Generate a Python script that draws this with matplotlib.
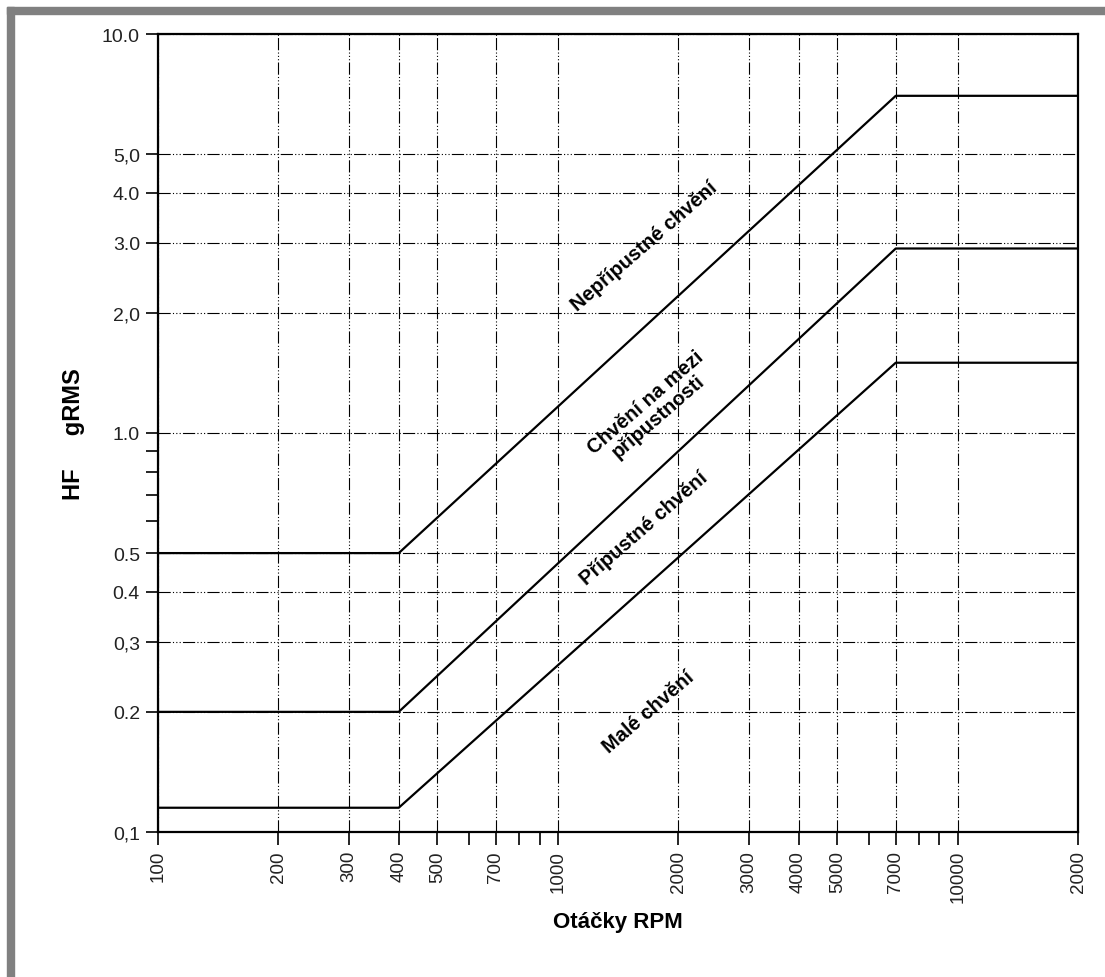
import matplotlib
matplotlib.use("Agg")
import matplotlib.pyplot as plt
from matplotlib.patches import Rectangle
from matplotlib.ticker import FixedLocator, FixedFormatter, NullFormatter

plt.rcParams['font.family'] = ['Liberation Sans', 'DejaVu Sans']

# Limit curves (RPM breakpoints and HF gRMS levels)
rpm = [100, 400, 7000, 20000]
limit_high = [0.5, 0.5, 7.0, 7.0]
limit_mid = [0.2, 0.2, 2.9, 2.9]
limit_low = [0.115, 0.115, 1.5, 1.5]

x_ticks = [100, 200, 300, 400, 500, 700, 1000, 2000, 3000, 4000, 5000, 7000, 10000, 20000]
x_labels = ['100', '200', '300', '400', '500', '700', '1000', '2000', '3000', '4000',
            '5000', '7000', '10000', '2000']
x_minor = [600, 800, 900, 6000, 8000, 9000]

y_ticks = [0.1, 0.2, 0.3, 0.4, 0.5, 1.0, 2.0, 3.0, 4.0, 5.0, 10.0]
y_labels = ['0,1', '0.2', '0,3', '0.4', '0.5', '1.0', '2,0', '3.0', '4.0', '5,0', '10.0']
y_minor = [0.6, 0.7, 0.8, 0.9]

zone_labels = ['Nepřípustné chvění', 'Chvění na mezi\npřípustnosti', 'Přípustné chvění', 'Malé chvění']
zone_x = [1640, 1720, 1640, 1680]
zone_y = [2.95, 1.15, 0.58, 0.20]

fig = plt.figure(figsize=(11.05, 9.78), dpi=100)
ax = fig.add_axes([0.143, 0.1483, 0.8326, 0.8159])

# grey frame (top and left) like the original screenshot
fig.patches.append(Rectangle((7 / 1105, (978 - 15) / 978), 1, 7 / 978,
                             transform=fig.transFigure, color='#808080', zorder=0))
fig.patches.append(Rectangle((7 / 1105, 0), 7 / 1105, (978 - 8) / 978,
                             transform=fig.transFigure, color='#808080', zorder=0))

for vals in (limit_high, limit_mid, limit_low):
    ax.plot(rpm, vals, color='black', lw=1.6, zorder=3)

ax.set_xscale('log')
ax.set_yscale('log')
ax.set_xlim(100, 20000)
ax.set_ylim(0.1, 10)

ax.xaxis.set_major_locator(FixedLocator(x_ticks))
ax.xaxis.set_major_formatter(FixedFormatter(x_labels))
ax.xaxis.set_minor_locator(FixedLocator(x_minor))
ax.xaxis.set_minor_formatter(NullFormatter())
ax.yaxis.set_major_locator(FixedLocator(y_ticks))
ax.yaxis.set_major_formatter(FixedFormatter(y_labels))
ax.yaxis.set_minor_locator(FixedLocator(y_minor))
ax.yaxis.set_minor_formatter(NullFormatter())

ax.tick_params(which='both', direction='out', length=9, width=1.2, color='black',
               labelsize=14, labelcolor='#222222', pad=4)
ax.tick_params(axis='x', labelrotation=90, labelsize=13.5)

for s in ax.spines.values():
    s.set_linewidth(1.6)
    s.set_color('black')

ax.grid(True, which='major', color='black', lw=0.8, dashes=(11, 2, 1, 2, 1, 2, 1, 2))

for txt, xv, yv in zip(zone_labels, zone_x, zone_y):
    ax.text(xv, yv, txt, rotation=41, rotation_mode='anchor', ha='center', va='center',
            fontsize=14.5, fontweight='bold', linespacing=0.95, zorder=4)

ax.set_xlabel('Otáčky RPM', fontsize=16, fontweight='bold', labelpad=6)
ax.set_ylabel('HF     gRMS', fontsize=17, fontweight='bold', labelpad=12)

fig.savefig('out.png', dpi=100, facecolor='white')
